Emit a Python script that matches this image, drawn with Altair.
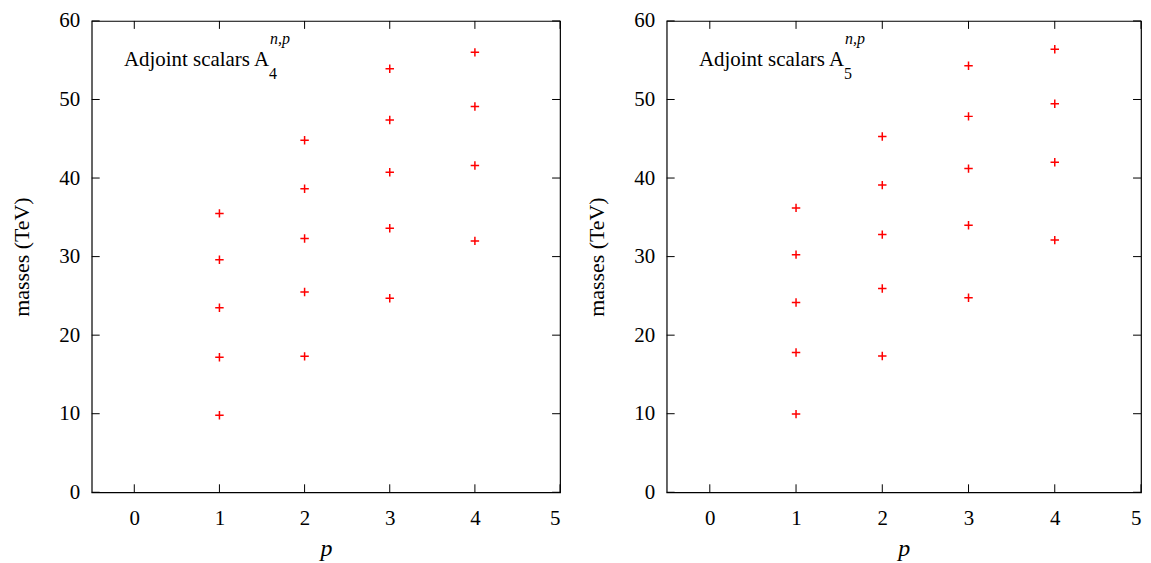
import altair as alt
import pandas as pd

# ---- data ----
p_values = [1, 1, 1, 1, 1,
            2, 2, 2, 2, 2,
            3, 3, 3, 3, 3,
            4, 4, 4, 4]
mass_A4 = [35.5, 29.6, 23.5, 17.2, 9.8,
           44.8, 38.65, 32.3, 25.5, 17.3,
           53.9, 47.4, 40.75, 33.6, 24.7,
           56.0, 49.1, 41.6, 32.0]
mass_A5 = [36.2, 30.25, 24.15, 17.8, 9.95,
           45.3, 39.1, 32.8, 25.95, 17.35,
           54.3, 47.85, 41.2, 34.0, 24.75,
           56.4, 49.45, 42.0, 32.1]
x_ticks = [0, 1, 2, 3, 4, 5]
y_ticks = [0, 10, 20, 30, 40, 50, 60]

FONT = "'Liberation Serif', 'Times New Roman', Times, 'DejaVu Serif', serif"
H = 473
TICK = 8
CROSS = "M-1,0H1M0,-1V1"


def panel(sub, masses, w):
    df = pd.DataFrame({"p": p_values, "mass": masses})
    xs = alt.Scale(domain=[-0.5, 5], nice=False, zero=False)
    ys = alt.Scale(domain=[0, 60], nice=False, zero=False)
    X = alt.X("p:Q", scale=xs,
              axis=alt.Axis(values=x_ticks, title="p", format="d"))
    Y = alt.Y("mass:Q", scale=ys,
              axis=alt.Axis(values=y_ticks, title="masses (TeV)", format="d"))

    pts = alt.Chart(df).mark_point(
        shape=CROSS, filled=False, color="#ff0000", size=72, strokeWidth=1.5, opacity=1
    ).encode(x=X, y=Y)

    xt = pd.DataFrame({"p": x_ticks})
    yt = pd.DataFrame({"mass": y_ticks})
    rule = dict(color="black", strokeWidth=1)
    bot = alt.Chart(xt).mark_rule(**rule).encode(x=X, y=alt.value(H), y2=alt.value(H - TICK))
    top = alt.Chart(xt).mark_rule(**rule).encode(x=X, y=alt.value(0), y2=alt.value(TICK))
    lef = alt.Chart(yt).mark_rule(**rule).encode(y=Y, x=alt.value(0), x2=alt.value(TICK))
    rig = alt.Chart(yt).mark_rule(**rule).encode(y=Y, x=alt.value(w - TICK), x2=alt.value(w))

    one = pd.DataFrame({"k": [0]})
    ax = 178  # right end of the main text, start of the indices
    main = alt.Chart(one).mark_text(
        text="Adjoint scalars A", align="right", baseline="alphabetic",
        font=FONT, fontSize=21, color="black"
    ).encode(x=alt.value(ax), y=alt.value(45))
    subt = alt.Chart(one).mark_text(
        text=sub, align="left", baseline="alphabetic",
        font=FONT, fontSize=16, color="black"
    ).encode(x=alt.value(ax), y=alt.value(58))
    supt = alt.Chart(one).mark_text(
        text="n,p", align="left", baseline="alphabetic",
        font=FONT, fontSize=16, fontStyle="italic", color="black"
    ).encode(x=alt.value(ax + 1), y=alt.value(23))

    return alt.layer(pts, bot, top, lef, rig, main, subt, supt).properties(width=w, height=H)


chart = alt.hconcat(
    panel("4", mass_A4, 470),
    panel("5", mass_A5, 476),
    spacing=23,
).properties(
    padding={"left": 2, "top": 0, "right": 0, "bottom": 0}
).configure_view(
    stroke="black", strokeWidth=1.2
).configure_axis(
    domain=False, ticks=False, grid=False,
    labelFont=FONT, labelFontSize=21, labelColor="black",
    titleFont=FONT, titleFontSize=22, titleFontWeight="normal", titleColor="black",
).configure_axisY(
    labelPadding=12, titlePadding=25
).configure_axisX(
    labelPadding=15, titlePadding=8, titleFontStyle="italic", titleFontSize=24
)

chart.save("out.html", embed_options={"renderer": "svg", "actions": False})
